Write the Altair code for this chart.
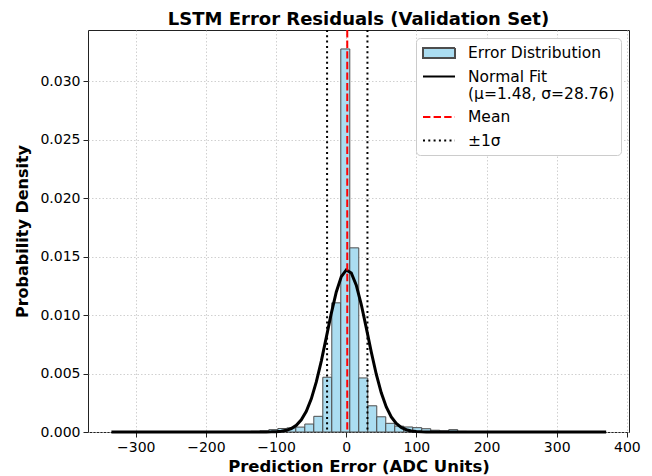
import altair as alt
import numpy as np
import pandas as pd

# ---- data ----
series_names = ["Error Distribution", "Normal Fit\n(μ=1.48, σ=28.76)", "Mean", "±1σ"]
mu = 1.48
sigma = 28.76
bin_start = -302.6
bin_width = 12.82
densities = [
    0.00001, 0, 0, 0, 0, 0, 0, 0, 0, 0,
    0.00002, 0.00003, 0.00004, 0.00006, 0.0001,
    0.0002, 0.0003, 0.00035, 0.00042, 0.00068,
    0.00134, 0.00468, 0.01104, 0.03274, 0.01574,
    0.00462, 0.00224, 0.0013, 0.00074, 0.0005,
    0.00043, 0.00037, 0.00028, 0.00015, 0.0001,
    0.0002, 0.00005, 0.00004, 0.00003, 0.00002,
    0.00002, 0.00001, 0.00001, 0, 0, 0, 0, 0, 0, 0.00001,
]
fit_x_min = -334.65
fit_x_max = 370.45
x_ticks = [-300, -200, -100, 0, 100, 200, 300, 400]
y_ticks = [0.0, 0.005, 0.010, 0.015, 0.020, 0.025, 0.030]
x_domain = [-368, 403]
y_domain = [0, 0.03436]

# ---- styles ----
bar_fill = "#abddf1"
bar_edge = "#4d4d4d"
legend_strokes = [bar_edge, "black", "red", "black"]
legend_fills = [bar_fill, "transparent", "transparent", "transparent"]
legend_dashes = [[1, 0], [1, 0], [7.4, 3.2], [2, 3.3]]
legend_shapes = ["M-2,-0.62H2V0.62H-2Z", "M-2,0H2", "M-2,0H2", "M-2,0H2"]

# ---- tables ----
edges = [bin_start + i * bin_width for i in range(len(densities) + 1)]
bars_df = pd.DataFrame({"x0": edges[:-1], "x1": edges[1:], "density": densities})
fx = np.linspace(fit_x_min, fit_x_max, 100)
fy = np.exp(-0.5 * ((fx - mu) / sigma) ** 2) / (sigma * np.sqrt(2 * np.pi))
fit_df = pd.DataFrame({"x": fx, "y": fy})
mean_df = pd.DataFrame({"x": [mu]})
sig_df = pd.DataFrame({"x": [mu - sigma, mu + sigma]})
legend_df = pd.DataFrame({"series": series_names, "x": 0.0, "y": 0.0})

xs = alt.Scale(domain=x_domain, nice=False, zero=False)
ys = alt.Scale(domain=y_domain, nice=False, zero=False)

legend = alt.Legend(
    title=None, orient="top-right", offset=8,
    labelExpr="split(datum.label, '\\n')",
    labelFontSize=15.5, labelFont="DejaVu Sans", labelColor="black",
    labelLimit=400, labelOffset=20, symbolOffset=8,
    symbolSize=256, symbolStrokeWidth=2, symbolOpacity=1,
    rowPadding=5.5, padding=6,
    fillColor="white", strokeColor="#cccccc", cornerRadius=4,
)

x_axis = alt.Axis(values=x_ticks, format="d", title="Prediction Error (ADC Units)",
                  titlePadding=4, titleFontSize=16.5)
y_axis = alt.Axis(values=y_ticks, format=".3f", title="Probability Density",
                  titlePadding=9, titleFontSize=16)

bars = alt.Chart(bars_df).mark_bar(fill=bar_fill, stroke=bar_edge, strokeWidth=1).encode(
    x=alt.X("x0:Q", scale=xs, axis=x_axis),
    x2="x1:Q",
    y=alt.Y("density:Q", scale=ys, axis=y_axis),
    y2=alt.datum(0),
)
fit = alt.Chart(fit_df).mark_line(stroke="black", strokeWidth=3).encode(
    x=alt.X("x:Q", scale=xs),
    y=alt.Y("y:Q", scale=ys),
)
mean_rule = alt.Chart(mean_df).mark_rule(
    stroke="red", strokeWidth=2, strokeDash=legend_dashes[2]
).encode(x=alt.X("x:Q", scale=xs))
sig_rule = alt.Chart(sig_df).mark_rule(
    stroke="black", strokeWidth=2, strokeDash=legend_dashes[3]
).encode(x=alt.X("x:Q", scale=xs))

legend_layer = alt.Chart(legend_df).transform_filter("false").mark_point(
    size=256, strokeWidth=2, opacity=1
).encode(
    x=alt.X("x:Q", scale=xs),
    y=alt.Y("y:Q", scale=ys),
    shape=alt.Shape("series:N", scale=alt.Scale(domain=series_names, range=legend_shapes), legend=legend),
    fill=alt.Fill("series:N", scale=alt.Scale(domain=series_names, range=legend_fills), legend=legend),
    stroke=alt.Stroke("series:N", scale=alt.Scale(domain=series_names, range=legend_strokes), legend=legend),
    strokeDash=alt.StrokeDash("series:N", scale=alt.Scale(domain=series_names, range=legend_dashes), legend=legend),
)

chart = alt.layer(bars, fit, sig_rule, mean_rule, legend_layer).properties(
    width=541, height=402,
    autosize=alt.AutoSizeParams(type="none"),
    padding={"left": 80, "top": 22, "right": 15, "bottom": 44},
    title=alt.TitleParams("LSTM Error Residuals (Validation Set)", fontSize=18,
                          font="DejaVu Sans", fontWeight="bold", color="black",
                          anchor="middle", offset=0),
).configure_view(
    stroke="#222222", strokeWidth=1,
).configure_axis(
    domain=False,
    labelFont="DejaVu Sans", labelFontSize=14, labelColor="black", labelPadding=3,
    titleFont="DejaVu Sans", titleFontWeight="bold", titleColor="black",
    tickColor="#222222", tickSize=5, tickWidth=1,
    grid=True, gridColor="#c4c4c4", gridDash=[1.5, 2], gridWidth=0.8,
)

chart.save("out.html", embed_options={"renderer": "svg", "actions": False})
